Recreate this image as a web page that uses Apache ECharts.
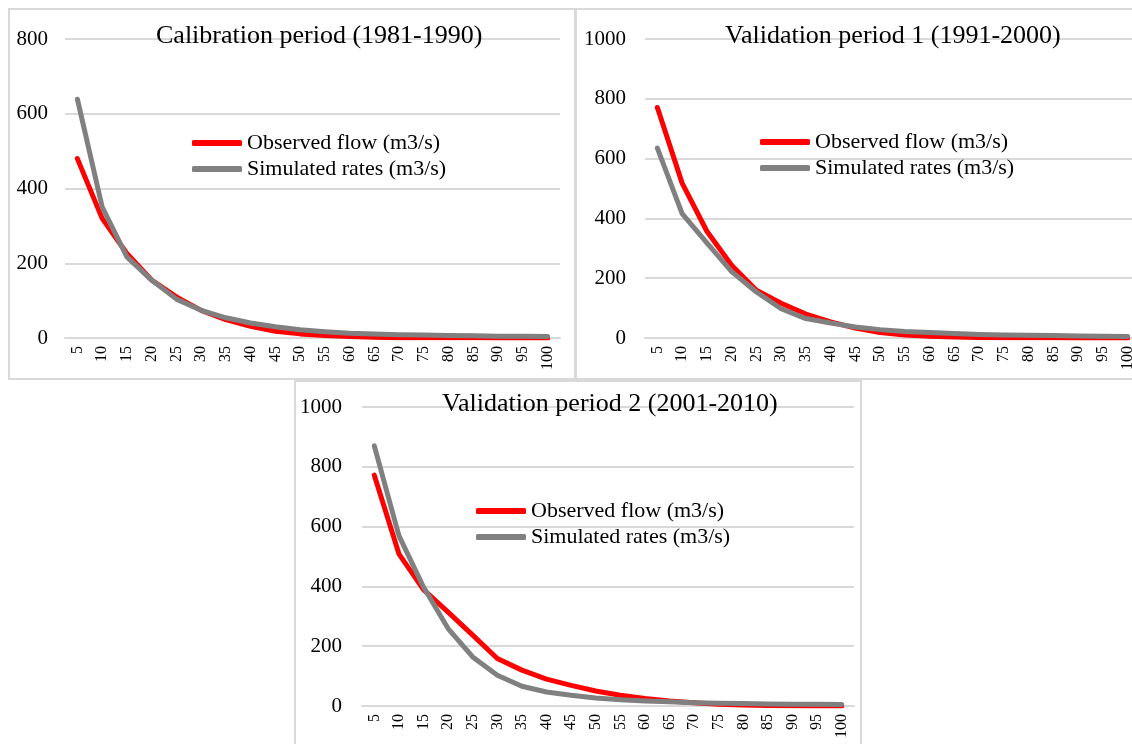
<!DOCTYPE html>
<html>
<head>
<meta charset="utf-8">
<script src="https://cdn.jsdelivr.net/npm/echarts@6/dist/echarts.min.js"></script>
<style>
  html, body { margin: 0; padding: 0; background: #fff; width: 1132px; height: 744px; overflow: hidden; position: relative; }
  .panel { position: absolute; border: 2px solid #d9d9d9; background: #fff; }
  #p1 { left: 8px; top: 8px; width: 564px; height: 368px; }
  #p2 { left: 575px; top: 8px; width: 575px; height: 368px; }
  #p3 { left: 294px; top: 380px; width: 564px; height: 370px; }
</style>
</head>
<body>
<div class="panel" id="p1"></div>
<div class="panel" id="p2"></div>
<div class="panel" id="p3"></div>
<script>
// exceedance percentages (x axis)
const percents = ['5','10','15','20','25','30','35','40','45','50','55','60','65','70','75','80','85','90','95','100'];

// Calibration period (1981-1990)
const calObserved  = [480, 320, 226, 155, 110, 74, 49, 31, 18, 11, 7, 4, 2, 1, 1, 0.5, 0.5, 0, 0, 0];
const calSimulated = [639, 351, 217, 155, 104, 74, 54, 40, 30, 22, 17, 13, 11, 9, 8, 7, 6, 5, 5, 4];

// Validation period 1 (1991-2000)
const val1Observed  = [771, 518, 357, 243, 160, 116, 80, 54, 33, 18, 10, 6, 3, 2, 1, 1, 0.5, 0, 0, 0];
const val1Simulated = [635, 416, 318, 222, 154, 98, 65, 50, 37, 28, 22, 18, 15, 12, 10, 9, 8, 7, 6, 5];

// Validation period 2 (2001-2010)
const val2Observed  = [772, 509, 389, 314, 237, 159, 120, 90, 69, 50, 36, 25, 17, 11, 6, 3, 2, 1, 0, 0];
const val2Simulated = [870, 570, 398, 259, 164, 103, 66, 47, 36, 27, 21, 17, 14, 11, 9, 8, 7, 6, 6, 5];

const FONT = '"Liberation Serif", "Times New Roman", serif';

function makeOption(cfg) {
  return {
    animation: false,
    title: {
      text: cfg.title,
      left: cfg.titleLeft,
      top: cfg.titleTop,
      textStyle: { fontFamily: FONT, fontSize: 26, fontWeight: 'normal', color: '#000' }
    },
    legend: {
      orient: 'vertical',
      left: cfg.legendLeft,
      top: cfg.legendTop,
      itemGap: 0,
      itemWidth: 50,
      itemHeight: 6,
      icon: 'roundRect',
      textStyle: { fontFamily: FONT, fontSize: 22, color: '#000', lineHeight: 26 },
      data: ['Observed flow (m3/s)', 'Simulated rates (m3/s)']
    },
    grid: { left: cfg.gridLeft, top: cfg.gridTop, width: cfg.gridWidth, height: 299 },
    xAxis: {
      type: 'category',
      data: percents,
      boundaryGap: true,
      axisLine: { lineStyle: { color: '#d9d9d9', width: 2 } },
      axisTick: { show: false },
      axisLabel: { rotate: 90, margin: 8, fontFamily: FONT, fontSize: 16, color: '#000', interval: 0 }
    },
    yAxis: {
      type: 'value',
      min: 0,
      max: cfg.yMax,
      interval: 200,
      axisLine: { show: false },
      axisTick: { show: false },
      axisLabel: {
        margin: cfg.labelMargin, fontFamily: FONT, fontSize: 21, color: '#000',
        formatter: function (v) { return String(v); }
      },
      splitLine: { lineStyle: { color: '#d9d9d9', width: 2 } }
    },
    series: [
      {
        name: 'Observed flow (m3/s)',
        type: 'line',
        data: cfg.observed,
        symbol: 'none',
        color: '#ff0000',
        lineStyle: { width: 5, color: '#ff0000', cap: 'round', join: 'round' }
      },
      {
        name: 'Simulated rates (m3/s)',
        type: 'line',
        data: cfg.simulated,
        symbol: 'none',
        color: '#808080',
        lineStyle: { width: 5, color: '#808080', cap: 'round', join: 'round' }
      }
    ]
  };
}

const chart1 = echarts.init(document.getElementById('p1'));
chart1.setOption(makeOption({
  title: 'Calibration period (1981-1990)', titleLeft: 141, titleTop: 8,
  legendLeft: 177, legendTop: 115,
  gridLeft: 55, gridTop: 29, gridWidth: 495,
  yMax: 800, labelMargin: 17,
  observed: calObserved, simulated: calSimulated
}));

const chart2 = echarts.init(document.getElementById('p2'));
chart2.setOption(makeOption({
  title: 'Validation period 1 (1991-2000)', titleLeft: 143, titleTop: 8,
  legendLeft: 178, legendTop: 114,
  gridLeft: 68, gridTop: 29, gridWidth: 495,
  yMax: 1000, labelMargin: 19,
  observed: val1Observed, simulated: val1Simulated
}));

const chart3 = echarts.init(document.getElementById('p3'));
chart3.setOption(makeOption({
  title: 'Validation period 2 (2001-2010)', titleLeft: 141, titleTop: 4,
  legendLeft: 175, legendTop: 111,
  gridLeft: 66, gridTop: 25, gridWidth: 492,
  yMax: 1000, labelMargin: 20,
  observed: val2Observed, simulated: val2Simulated
}));
</script>
</body>
</html>
